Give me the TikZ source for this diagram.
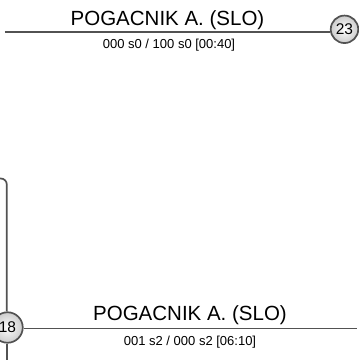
\documentclass[tikz,border=0pt]{standalone}
\usepackage{fontspec}
\setmainfont{Liberation Sans}
\begin{document}
\begin{tikzpicture}[x=1pt,y=-1pt,
  wire/.style={draw=black!68,line width=1.7pt},
  seed/.style={circle,draw=black!68,line width=1.7pt,inner sep=0pt,
    inner color=white,outer color=black!20,
    font=\fontsize{15.5}{16}\selectfont},
  titletext/.style={anchor=base,inner sep=0pt,font=\fontsize{20.5}{24}\selectfont},
  subtext/.style={anchor=base,inner sep=0pt,font=\fontsize{13}{15}\selectfont}]
\useasboundingbox (0,0) rectangle (359,360);
% top match
\coordinate (tl) at (5,32.3);
\node[seed,minimum size=27.5pt] (c23) at (344.5,29.3) {23};
\draw[wire] (tl) -- (c23.west |- tl);
\node[titletext] (t1) at (167.5,25) {POGACNIK A. (SLO)};
\node[subtext] (s1) at (169,48.3) {000 s0 / 100 s0 [00:40]};
% bottom match
\coordinate (vtop) at (0,178.5);
\coordinate (vbot) at (6.8,361);
\coordinate (br) at (357,328.5);
\node[seed,minimum size=30.5pt] (c18) at (7.5,327.5) {18};
\draw[wire,rounded corners=6pt] (vtop) -- (6.8,178.5) -- (c18.north -| 6.8,0);
\draw[wire] (c18.south -| 6.8,0) -- (vbot);
\draw[wire] (c18.east |- br) -- (br);
\node[titletext] (t2) at (190,320.7) {POGACNIK A. (SLO)};
\node[subtext] (s2) at (190,345.7) {001 s2 / 000 s2 [06:10]};
\end{tikzpicture}
\end{document}
